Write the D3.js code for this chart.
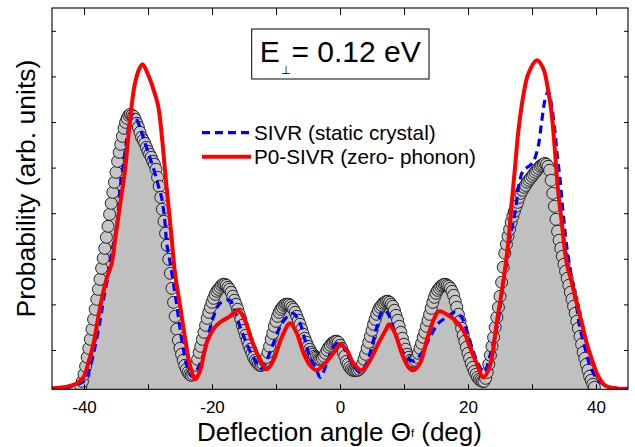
<!DOCTYPE html>
<html><head><meta charset="utf-8">
<script src="https://cdn.jsdelivr.net/npm/d3@7"></script>
<style>
body{margin:0;background:#fff}
svg{display:block}
text{font-family:"Liberation Sans",Arial,Helvetica,sans-serif;fill:#000}
</style>
</head><body>
<svg id="chart" width="635" height="447"></svg>
<script>
// ---------------- data ----------------
const xTicksLabeled = [-40, -20, 0, 20, 40];
const xTicksAll = [-40, -30, -20, -10, 0, 10, 20, 30, 40];
const yTicks = [39.3, 84.9, 130.5, 176.1, 221.7, 267.3, 312.9, 358.5];

// circles (reference data): first angle and step (deg), then values
const circleTheta0 = -40.5, circleStep = 0.25;
const circleProb = [
  3, 8,
  15, 23, 32, 41,     50, 60, 70, 80,     90, 100, 110, 121,  131, 141, 152, 163,
  175, 186, 197, 207, 217, 228, 237, 245, 253, 261, 267, 271, 274, 275, 274, 273,
  270, 266, 262, 257, 252, 249, 246, 242, 238, 235, 232, 228, 225, 220, 212, 203,
  192, 180, 168, 156, 144, 130, 116, 101, 87, 73, 60, 49,     41, 35, 29, 24,
  20, 17, 15, 14,     15, 19, 24, 30,     37, 43, 50, 57,     64, 71, 77, 82,
  87, 91, 95, 98,     100, 102, 104, 105, 105, 104, 102, 100, 97, 93, 89, 85,
  80, 75, 70, 64,     59, 54, 49, 44,     40, 36, 32, 29,     27, 25, 24, 24,
  25, 28, 32, 37,     43, 50, 56, 63,     68, 73, 77, 80,     82, 84, 85, 85,
  85, 84, 82, 80,     77, 73, 69, 65,     60, 55, 51, 47,     43, 40, 37, 35,
  33, 32, 31, 30,     30, 31, 33, 36,     39, 42, 44, 46,     47, 48, 48, 47,
  44, 41, 37, 33,     28, 25, 22, 20,     19, 19, 19, 19,     20, 22, 25, 30,
  35, 41, 47, 53,     59, 65, 70, 75,     79, 82, 84, 86,     87, 88, 88, 87,
  85, 83, 79, 74,     69, 63, 57, 51,     45, 40, 35, 32,     29, 28, 28, 29,
  32, 36, 41, 46,     52, 57, 63, 69,     75, 81, 87, 92,     96, 99, 101, 103,
  104, 105, 105, 104, 103, 101, 98, 94,   88, 82, 75, 68,     61, 54, 48, 42,
  36, 31, 26, 22,     18, 15, 12, 10,     9, 8, 8, 11,        17, 25, 34, 43,
  52, 62, 72, 82,     93, 107, 122, 136,  145, 153, 160, 167, 173, 178, 183, 187,
  192, 196, 199, 202, 204, 207, 209, 211, 213, 215, 217, 219, 221, 223, 224, 225,
  226, 225, 223, 219, 209, 196, 183, 170, 158, 149, 141, 133, 125, 118, 111, 104,
  97, 90, 83, 76,     68, 61, 53, 45,     37, 31, 25, 19,     13, 9, 5, 2
];

// SIVR (static crystal)
const sivrTheta = [-45, -43, -41.4, -39.85, -39.05, -38.3, -37.5, -37.0, -36.2, -35.6, -35.15, -34.6, -34.4, -33.85, -33.3, -32.8, -32.35, -31.7, -31.0, -30.2, -29.15, -28.4, -27.85, -27.35, -27.1, -26.55, -26.05, -25.5, -25.0, -24.5, -23.95, -23.15, -21.9, -20.8, -19.8, -18.75, -17.2, -16.4, -15.6, -14.6, -13.55, -12.2, -10.65, -9.4, -8.35, -7.35, -6.25, -5.45, -4.7, -3.65, -3.1, -2.0, -1.1, 0, 1.05, 2.1, 3.1, 4.15, 4.95, 5.75, 6.5, 7.05, 7.8, 8.6, 9.65, 10.95, 11.7, 12.75, 14.05, 15.35, 16.65, 17.95, 19.0, 19.8, 20.6, 21.35, 22.5, 23.45, 24.5, 25.0, 25.5, 26.05, 26.55, 27.35, 28.1, 28.65, 29.7, 30.3, 31.0, 31.5, 32.05, 32.55, 33.1, 33.6, 33.95, 34.4, 34.75, 35.4, 35.95, 36.45, 37.0, 37.5, 38.3, 39.05, 40.1, 41.15, 42.2, 45];
const sivrProb = [0.5, 1, 4, 9, 22, 42, 68, 88, 115, 139, 153, 179, 199, 224, 251, 269, 275, 269, 257, 241, 221, 204, 191, 167, 147, 127, 107, 84, 61, 41, 24, 13, 25, 48, 72, 86, 89, 77, 62, 46, 32, 21, 42, 62, 72, 76, 66, 49, 32, 19, 12, 27, 42, 47, 36, 24, 17, 26, 42, 62, 77, 79, 72, 56, 39, 29, 29, 36, 52, 66, 72, 77, 72, 59, 42, 29, 17, 34, 61, 81, 107, 127, 151, 177, 209, 219, 224, 229, 244, 267, 290, 298, 282, 257, 234, 209, 184, 144, 121, 101, 81, 61, 41, 24, 11, 5, 2, 0.5];

// P0-SIVR (zero-phonon)
const p0Theta = [-45, -42.7, -41.1, -40.1, -39.3, -38.5, -37.75, -37.2, -36.45, -35.7, -35.15, -34.4, -33.6, -33.1, -32.55, -32.0, -31.25, -30.85, -29.95, -29.15, -28.4, -27.85, -27.35, -26.8, -26.3, -25.8, -25.0, -24.2, -23.45, -22.6, -21.9, -20.8, -19.8, -18.75, -17.2, -15.9, -14.85, -13.8, -12.5, -11.45, -10.4, -9.1, -7.8, -6.75, -5.75, -4.7, -3.65, -2.35, -1.05, 0, 1.05, 2.1, 3.4, 4.7, 6.0, 7.3, 7.65, 8.6, 9.65, 10.7, 11.45, 12.5, 13.55, 14.6, 15.45, 16.65, 17.95, 19.25, 20.3, 21.35, 22.4, 23.45, 24.5, 25.5, 26.3, 26.8, 27.35, 27.85, 28.65, 29.45, 30.75, 31.75, 32.55, 33.1, 33.6, 34.1, 34.65, 35.4, 36.2, 37.0, 37.75, 38.55, 39.3, 40.35, 41.4, 43, 45];
const p0Prob = [1, 2.5, 6, 12, 27, 46, 73, 91, 111, 125, 149, 183, 219, 251, 284, 307, 322, 325, 314, 300, 283, 254, 219, 183, 151, 117, 84, 51, 24, 10, 18, 47, 60, 67, 73, 79, 69, 49, 30, 20, 29, 52, 66, 56, 37, 24, 19, 26, 36, 45, 39, 26, 19, 29, 46, 61, 65, 56, 36, 22, 19, 26, 49, 69, 78, 75, 69, 59, 42, 26, 12, 24, 67, 107, 147, 184, 222, 257, 294, 316, 329, 321, 298, 274, 237, 197, 167, 127, 107, 86, 67, 46, 31, 13, 4, 1, 0.5];

const legendLabels = ["SIVR (static crystal)", "P0-SIVR (zero- phonon)"];

// ---------------- chart ----------------
const svg = d3.select("#chart");
const L = 52, R = 628, T = 8, B = 389.3;
const x = d3.scaleLinear().domain([-45, 45]).range([L, R]);
const y = d3.scaleLinear().domain([0, 381.3]).range([B, T]);

svg.append("defs").append("clipPath").attr("id", "clip")
  .append("rect").attr("x", L).attr("y", T).attr("width", R - L).attr("height", B - T);

const circles = circleProb.map((v, i) => ({t: circleTheta0 + i * circleStep, v}));
const sivr = sivrTheta.map((t, i) => ({t, v: sivrProb[i]}));
const p0 = p0Theta.map((t, i) => ({t, v: p0Prob[i]}));

const plot = svg.append("g").attr("clip-path", "url(#clip)");

// gray filled area under the reference data
plot.append("path")
  .datum(circles)
  .attr("fill", "#c0c0c0")
  .attr("d", d3.area().x(d => x(d.t)).y0(y(0)).y1(d => y(d.v)));

function tickOnly(g) {
  g.select(".domain").remove();
  g.selectAll("text").remove();
  g.selectAll("line").attr("stroke", "#000").attr("stroke-width", 1);
}

// bottom ticks (drawn over the fill)
svg.append("g").attr("transform", `translate(0,${B})`)
  .call(d3.axisBottom(x).tickValues(xTicksAll).tickSize(-5)).call(tickOnly);

// circles
plot.append("g").selectAll("circle").data(circles).join("circle")
  .attr("cx", d => x(d.t)).attr("cy", d => y(d.v)).attr("r", 6)
  .attr("fill", "#c6c6c6").attr("stroke", "#111").attr("stroke-width", 0.9);

// SIVR dashed blue
plot.append("path").datum(sivr)
  .attr("fill", "none").attr("stroke", "#0000ff").attr("stroke-width", 3.2)
  .attr("stroke-dasharray", "8,5")
  .attr("d", d3.line().x(d => x(d.t)).y(d => y(d.v)).curve(d3.curveCatmullRom.alpha(0.5)));

// P0-SIVR solid red
plot.append("path").datum(p0)
  .attr("fill", "none").attr("stroke", "#ff0000").attr("stroke-width", 4)
  .attr("stroke-linejoin", "round")
  .attr("d", d3.line().x(d => x(d.t)).y(d => y(d.v)).curve(d3.curveCatmullRom.alpha(0.5)));

// top ticks
svg.append("g").attr("transform", `translate(0,${T})`)
  .call(d3.axisTop(x).tickValues(xTicksAll).tickSize(-7)).call(tickOnly);

// bottom labels
const gLab = svg.append("g").attr("transform", `translate(0,${B})`)
  .call(d3.axisBottom(x).tickValues(xTicksLabeled).tickSize(0).tickPadding(11.5).tickFormat(d => String(d)));
gLab.select(".domain").remove();
gLab.selectAll("line").remove();
gLab.selectAll("text").attr("font-size", 17).attr("font-family", "Liberation Sans, Arial, sans-serif").attr("fill", "#000");

// y ticks left & right
svg.append("g").attr("transform", `translate(${L},0)`)
  .call(d3.axisLeft(y).tickValues(yTicks).tickSize(-4)).call(tickOnly);
svg.append("g").attr("transform", `translate(${R},0)`)
  .call(d3.axisRight(y).tickValues(yTicks).tickSize(-4)).call(tickOnly);

// frame
svg.append("rect").attr("x", L).attr("y", T).attr("width", R - L).attr("height", B - T)
  .attr("fill", "none").attr("stroke", "#000").attr("stroke-width", 1.1);

// axis titles
const xt = svg.append("text").attr("x", 339.5).attr("y", 440.5).attr("text-anchor", "middle").attr("font-size", 26);
xt.append("tspan").text("Deflection angle \u0398");
xt.append("tspan").attr("font-size", 11).attr("dy", -4).text("f");
xt.append("tspan").attr("dy", 4).text(" (deg)");

svg.append("text").attr("transform", "translate(35,188.5) rotate(-90)")
  .attr("text-anchor", "middle").attr("font-size", 26.5).text("Probability (arb. units)");

// title box
svg.append("rect").attr("x", 251.7).attr("y", 29).attr("width", 177.3).attr("height", 50)
  .attr("fill", "#fff").attr("stroke", "#000").attr("stroke-width", 1);
svg.append("text").attr("x", 259.8).attr("y", 61.7).attr("font-size", 30).text("E");
svg.append("text").attr("x", 286).attr("y", 73.8).attr("font-size", 11.5).attr("text-anchor", "middle")
  .style("font-family", "DejaVu Sans, sans-serif").style("fill", "#000").text("\u22A5");
svg.append("text").attr("x", 291.5).attr("y", 61.7).attr("font-size", 30).text("= 0.12 eV");

// legend
const lg = svg.append("g");
lg.append("line").attr("x1", 202).attr("x2", 251).attr("y1", 132.7).attr("y2", 132.7)
  .attr("stroke", "#0000ff").attr("stroke-width", 3.2).attr("stroke-dasharray", "8,5");
lg.append("line").attr("x1", 202).attr("x2", 251).attr("y1", 156.7).attr("y2", 156.7)
  .attr("stroke", "#ff0000").attr("stroke-width", 4);
lg.append("text").attr("x", 254).attr("y", 139.5).attr("font-size", 20.7).text(legendLabels[0]);
lg.append("text").attr("x", 254).attr("y", 163.5).attr("font-size", 20.7).text(legendLabels[1]);
</script>
</body></html>
